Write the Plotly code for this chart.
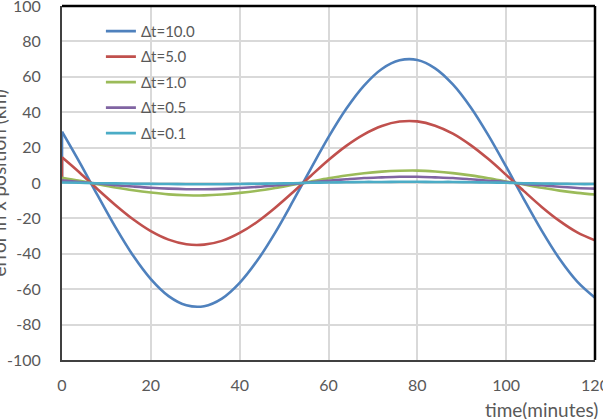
import plotly.graph_objects as go

# time in minutes (first sample at t=0 starts from zero error)
TIME_MIN = [0, 0, 4, 8, 12, 16, 20, 24, 28, 32, 36, 40, 44, 48, 52, 56, 60,
            64, 68, 72, 76, 80, 84, 88, 92, 96, 100, 104, 108, 112, 116, 120]

ERR_DT_10 = [0, 29.0, 11.5, -6.9, -24.8, -41.0, -54.3, -63.9, -69.1, -69.6, -65.3, -56.4,
             -43.7, -28.0, -10.3, 8.0, 25.9, 41.9, 55.0, 64.4, 69.3, 69.5, 64.8,
             55.7, 42.8, 26.9, 9.2, -9.2, -26.9, -42.8, -55.7, -64.8]
ERR_DT_5 = [0, 14.5, 5.8, -3.5, -12.4, -20.5, -27.2, -32.0, -34.6, -34.8, -32.7, -28.2,
            -21.9, -14.0, -5.2, 4.0, 13.0, 21.0, 27.5, 32.2, 34.7, 34.8, 32.4,
            27.9, 21.4, 13.5, 4.6, -4.6, -13.5, -21.4, -27.9, -32.4]
ERR_DT_1 = [0, 2.9, 1.2, -0.7, -2.5, -4.1, -5.4, -6.4, -6.9, -7.0, -6.5, -5.6,
            -4.4, -2.8, -1.0, 0.8, 2.6, 4.2, 5.5, 6.4, 6.9, 7.0, 6.5,
            5.6, 4.3, 2.7, 0.9, -0.9, -2.7, -4.3, -5.6, -6.5]
ERR_DT_05 = [0, 1.5, 0.6, -0.3, -1.2, -2.0, -2.7, -3.2, -3.5, -3.5, -3.3, -2.8,
             -2.2, -1.4, -0.5, 0.4, 1.3, 2.1, 2.8, 3.2, 3.5, 3.5, 3.2,
             2.8, 2.1, 1.3, 0.5, -0.5, -1.3, -2.1, -2.8, -3.2]
ERR_DT_01 = [0, 0.3, 0.1, -0.1, -0.2, -0.4, -0.5, -0.6, -0.7, -0.7, -0.7, -0.6,
             -0.4, -0.3, -0.1, 0.1, 0.3, 0.4, 0.6, 0.6, 0.7, 0.7, 0.6,
             0.6, 0.4, 0.3, 0.1, -0.1, -0.3, -0.4, -0.6, -0.6]

SERIES_NAMES = ["Δt=10.0", "Δt=5.0", "Δt=1.0", "Δt=0.5", "Δt=0.1"]
SERIES_VALUES = [ERR_DT_10, ERR_DT_5, ERR_DT_1, ERR_DT_05, ERR_DT_01]
SERIES_COLORS = ["#4F81BD", "#C0504D", "#9BBB59", "#8064A2", "#4BACC6"]

X_TICKS = [0, 20, 40, 60, 80, 100, 120]
Y_TICKS = [-100, -80, -60, -40, -20, 0, 20, 40, 60, 80, 100]

FONT = "Lato, 'Open Sans', sans-serif"
GRAY = "#595959"

fig = go.Figure()
for name, vals, col in zip(SERIES_NAMES, SERIES_VALUES, SERIES_COLORS):
    # initial jump from zero at t=0 (straight segment)
    fig.add_trace(go.Scatter(
        x=TIME_MIN[:2], y=vals[:2], mode="lines", name=name,
        legendgroup=name, showlegend=False, hoverinfo="skip",
        line=dict(color=col, width=2.6),
    ))
    # smooth error curve
    fig.add_trace(go.Scatter(
        x=TIME_MIN[1:], y=vals[1:], mode="lines", name=name,
        legendgroup=name,
        line=dict(color=col, width=2.6, shape="spline", smoothing=1.0),
    ))

fig.update_layout(
    width=603, height=419,
    margin=dict(l=62, r=8, t=6, b=59),
    paper_bgcolor="white", plot_bgcolor="white",
    font=dict(family=FONT, size=15, color=GRAY),
    showlegend=True,
    legend=dict(
        x=0.073, y=0.975, xanchor="left", yanchor="top",
        bgcolor="rgba(0,0,0,0)", borderwidth=0,
        font=dict(family=FONT, size=15, color=GRAY),
        tracegroupgap=3, traceorder="grouped",
    ),
    xaxis=dict(
        range=[0, 120], tickvals=X_TICKS, ticktext=[str(v) for v in X_TICKS],
        showgrid=True, gridcolor="#D9D9D9", gridwidth=1.5,
        showline=True, linecolor="#404040", linewidth=2,
        zeroline=False, ticks="", ticklabelstandoff=10,
        ticklabeloverflow="allow", automargin=False,
        tickfont=dict(family=FONT, size=16, color=GRAY),
    ),
    yaxis=dict(
        range=[-100, 100], tickvals=Y_TICKS, ticktext=[str(v) for v in Y_TICKS],
        showgrid=True, gridcolor="#D9D9D9", gridwidth=1.5,
        showline=True, linecolor="#404040", linewidth=2,
        zeroline=False, ticks="", ticklabelstandoff=16,
        ticklabeloverflow="allow", automargin=False,
        tickfont=dict(family=FONT, size=16, color=GRAY),
    ),
    shapes=[
        # legend box background (covers gridlines)
        dict(type="rect", xref="paper", yref="paper", layer="between",
             x0=0.03, x1=0.287, y0=0.60, y1=0.97,
             fillcolor="white", line=dict(width=0)),
        # top and right frame
        dict(type="line", xref="paper", yref="paper", x0=0, x1=1, y0=1, y1=1,
             line=dict(color="black", width=2.5)),
        dict(type="line", xref="paper", yref="paper", x0=1, x1=1, y0=0, y1=1,
             line=dict(color="black", width=2.5)),
    ],
    annotations=[
        dict(text="error in x position (km)", xref="paper", yref="paper",
             x=-0.121, y=0.5, xanchor="center", yanchor="middle",
             textangle=-90, showarrow=False,
             font=dict(family=FONT, size=19, color=GRAY)),
        dict(text="time(minutes)", xref="paper", yref="paper",
             x=0.79, y=-0.141, xanchor="left", yanchor="middle",
             showarrow=False,
             font=dict(family=FONT, size=19, color=GRAY)),
    ],
)

fig.write_html("out.html")
